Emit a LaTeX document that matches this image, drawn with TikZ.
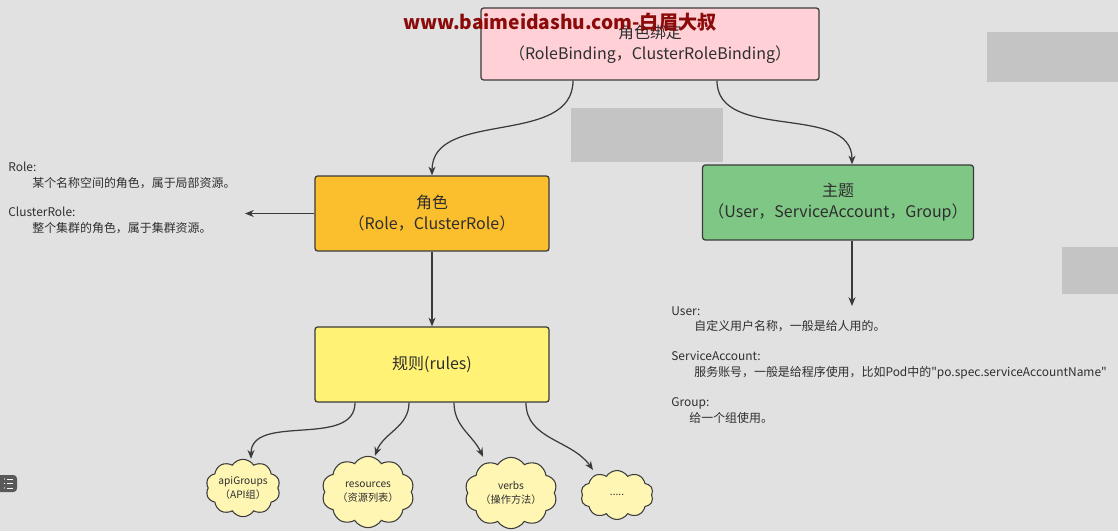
\documentclass[tikz,border=0pt]{standalone}
\usepackage{fontspec}
\setmainfont{Noto Sans CJK SC}
\usetikzlibrary{shapes.symbols,arrows.meta}
\definecolor{bg}{HTML}{E1E1E1}
\definecolor{mask}{HTML}{C4C4C4}
\definecolor{pinkbox}{HTML}{FFD1D6}
\definecolor{rolebox}{HTML}{FBBF2D}
\definecolor{rulebox}{HTML}{FFF275}
\definecolor{subjbox}{HTML}{7FC785}
\definecolor{cloudfill}{HTML}{FFF6B4}
\definecolor{edge}{HTML}{3A3A3A}
\definecolor{ink}{HTML}{2E2E2E}
\definecolor{mark}{HTML}{8B0A0A}

\begin{document}
\begin{tikzpicture}[x=0.02cm,y=0.02cm,
    box/.style={draw=edge,line width=0.7pt,rounded corners=1.5pt,align=center,
      minimum height=1.5cm,text=ink,font=\fontsize{9.1}{12}\selectfont},
    puff/.style={cloud,cloud puffs=10,cloud puff arc=115,aspect=1.45,draw=edge,
      line width=0.6pt,fill=cloudfill,minimum width=1.45cm,minimum height=0.98cm,
      inner sep=0pt,align=center,text=ink,font=\fontsize{5.8}{8}\selectfont},
    note/.style={align=left,anchor=north west,inner sep=0pt,text=ink,
      font=\fontsize{6.8}{9}\selectfont},
    link/.style={draw=edge,line width=0.7pt,-{Stealth[length=5pt,width=4pt]}}]
  \useasboundingbox[fill=bg] (0,0) rectangle (1118,-531);
  \fill[mask] (571,-108) rectangle (723,-162);
  \fill[mask] (987,-32) rectangle (1118,-82);
  \fill[mask] (1062,-247) rectangle (1118,-294);
  \node[box,fill=pinkbox,minimum width=6.76cm,minimum height=1.44cm] (bind) at (650,-44) {角色绑定\\（RoleBinding，ClusterRoleBinding）};
  \node[box,fill=rolebox,minimum width=4.68cm] (role) at (432,-213.5) {角色\\（Role，ClusterRole）};
  \node[box,fill=rulebox,minimum width=4.68cm] (rules) at (432,-364.5) {规则(rules)};
  \node[box,fill=subjbox,minimum width=5.4cm] (subj) at (838,-202.5) {主题\\（User，ServiceAccount，Group）};
  \node[puff] (api) at (243,-488) {apiGroups\\（API组）};
  \node[puff] (res) at (368,-492) {resources\\（资源列表）};
  \node[puff] (verb) at (511,-493) {verbs\\（操作方法）};
  \node[puff] (more) at (617,-495) {.....};
  \node[note] (roletxt) at (8,-162) {Role:\\\hspace*{0.48cm}某个名称空间的角色，属于局部资源。\\[0.26cm]ClusterRole:\\\hspace*{0.48cm}整个集群的角色，属于集群资源。};
  \node[note] (subjtxt) at (671,-306) {User:\\\hspace*{0.46cm}自定义用户名称，一般是给人用的。\\[0.28cm]ServiceAccount:\\\hspace*{0.46cm}服务账号，一般是给程序使用，比如Pod中的\textquotedbl po.spec.serviceAccountName\textquotedbl\\[0.28cm]Group:\\\hspace*{0.36cm}给一个组使用。};
  \coordinate (roleend) at (245,-213.5);
  \draw[link] ([xshift=-1.54cm]bind.south) to[out=-90,in=90] (role.north);
  \draw[link] ([xshift=1.34cm]bind.south) to[out=-90,in=90] ([xshift=0.28cm]subj.north);
  \draw[link] (role.west) to (roleend);
  \draw[link] (role.south) to (rules.north);
  \draw[link] ([xshift=0.28cm]subj.south) to ([xshift=0.28cm]subjtxt.north -| subj.south);
  \draw[link] ([xshift=-1.54cm]rules.south) to[out=-90,in=90] ([xshift=0.16cm]api.north);
  \draw[link] ([xshift=-0.46cm]rules.south) to[out=-90,in=70] ([xshift=0.14cm]res.north);
  \draw[link] ([xshift=0.44cm]rules.south) to[out=-90,in=115] ([xshift=-0.56cm]verb.north);
  \draw[link] ([xshift=1.88cm]rules.south) to[out=-90,in=125] ([xshift=-0.48cm]more.north);
  \node[text=mark,font=\fontsize{10.9}{13}\bfseries\selectfont,inner sep=0pt] (wm) at (560,-22) {www.baimeidashu.com-白眉大叔};
  \fill[gray!70!black,rounded corners=2pt] (-4,-475) rectangle (17,-492);
  \foreach \y in {479,483.5,488} {
    \draw[white,line width=0.5pt] (7,-\y) -- (13,-\y);
    \fill[white] (4.5,-\y) circle (0.6);
  }
\end{tikzpicture}
\end{document}
